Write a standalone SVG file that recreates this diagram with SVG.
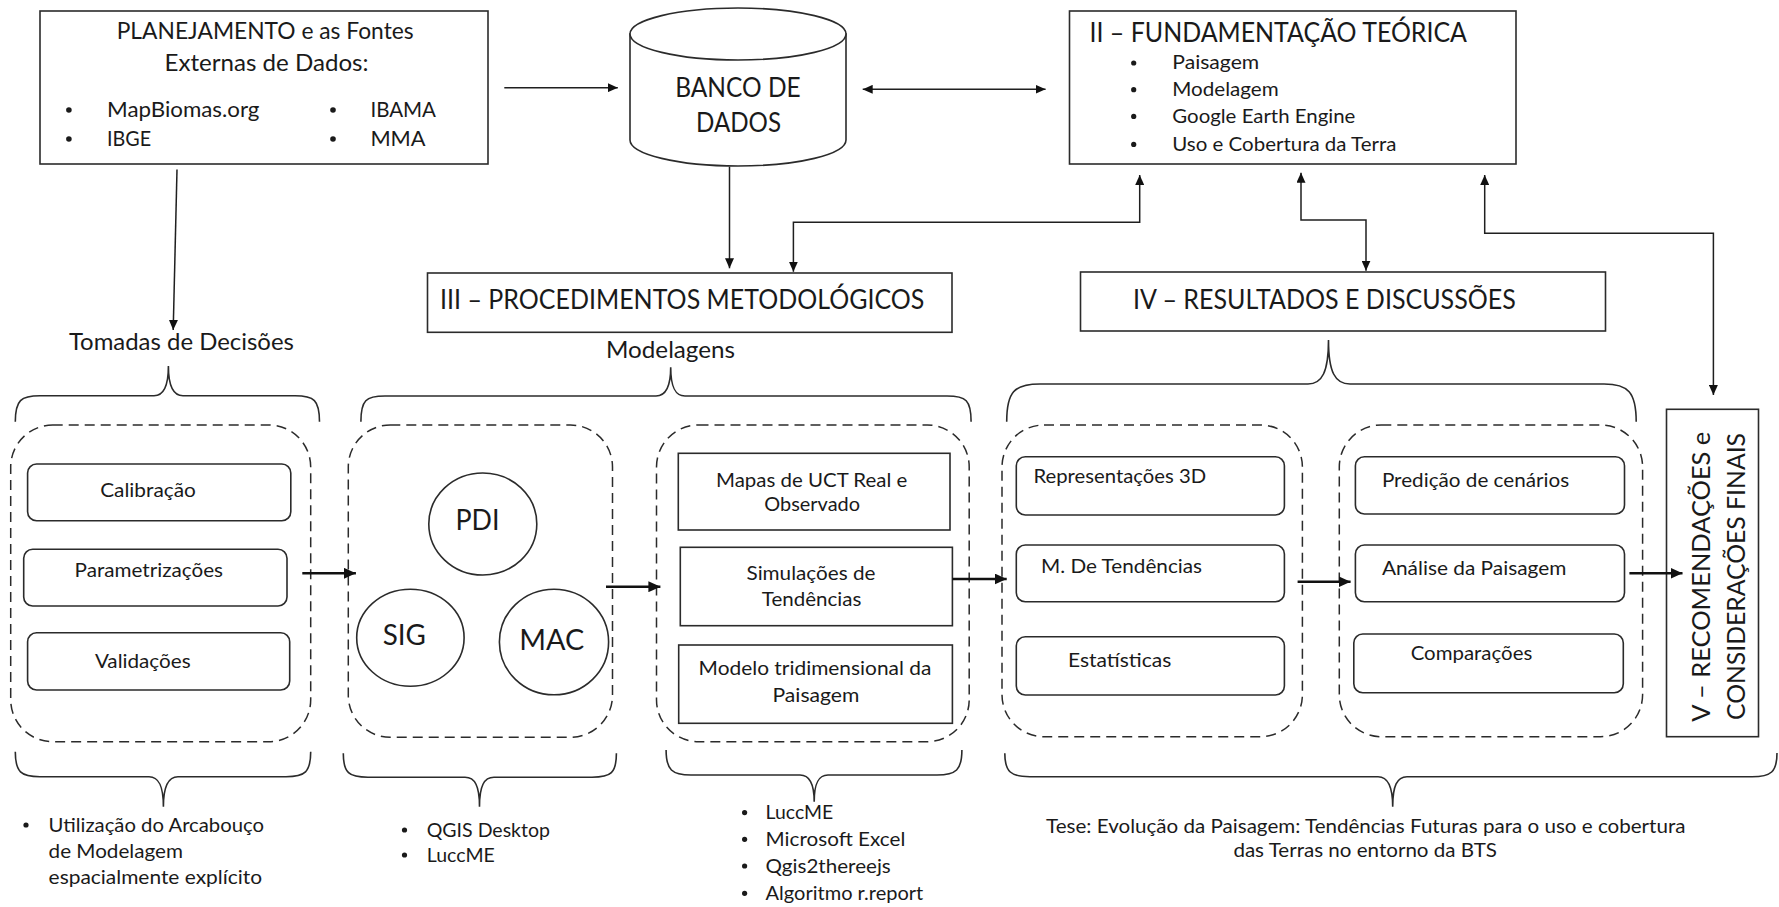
<svg xmlns="http://www.w3.org/2000/svg" width="1779" height="907" viewBox="0 0 1779 907">
  <defs>
    <style>
      .box { fill: #ffffff; stroke: #2b2b2b; stroke-width: 1.6; }
      .rbox { fill: #ffffff; stroke: #2b2b2b; stroke-width: 1.6; }
      .dash { fill: none; stroke: #2b2b2b; stroke-width: 1.5; stroke-dasharray: 10 6; }
      .brace { fill: none; stroke: #2b2b2b; stroke-width: 1.6; }
      .ln { fill: none; stroke: #1f1f1f; stroke-width: 1.5; }
      .thick { fill: none; stroke: #111111; stroke-width: 2.6; }
      .dot { fill: #1a1a1a; }
      text { font-family: Lato, "Open Sans", "Liberation Sans", sans-serif; fill: #1a1a1a; }
      .t20 { font-size: 20px; }
      .t21 { font-size: 21px; }
      .t23 { font-size: 23px; }
      .t26 { font-size: 26px; }
      .t29 { font-size: 29px; }
      .tv { font-size: 25px; }
    </style>
    <marker id="head" viewBox="0 0 10 10" refX="10" refY="5" markerWidth="10" markerHeight="9" markerUnits="userSpaceOnUse" orient="auto-start-reverse" preserveAspectRatio="none">
      <path d="M0,0 L10,5 L0,10 z" fill="#111111"/>
    </marker>
    <marker id="headBig" viewBox="0 0 10 10" refX="10" refY="5" markerWidth="12" markerHeight="11" markerUnits="userSpaceOnUse" orient="auto" preserveAspectRatio="none">
      <path d="M0,0 L10,5 L0,10 z" fill="#111111"/>
    </marker>
  </defs>

  <rect width="1779" height="907" fill="#ffffff"/>

  <!-- Planning and external data sources -->
  <g id="planejamento">
    <rect class="box" x="40" y="11" width="448" height="153"/>
    <text class="t23" x="116.7" y="39.3" textLength="297" lengthAdjust="spacingAndGlyphs">PLANEJAMENTO e as Fontes</text>
    <text class="t23" x="164.5" y="71" textLength="204" lengthAdjust="spacingAndGlyphs">Externas de Dados:</text>
    <circle class="dot" cx="68.9" cy="110" r="2.8"/>
    <circle class="dot" cx="68.9" cy="139" r="2.8"/>
    <circle class="dot" cx="333" cy="110" r="2.8"/>
    <circle class="dot" cx="333" cy="139" r="2.8"/>
    <text class="t21" x="107.1" y="116.7" textLength="152.3" lengthAdjust="spacingAndGlyphs">MapBiomas.org</text>
    <text class="t21" x="107.1" y="145.7" textLength="44.1" lengthAdjust="spacingAndGlyphs">IBGE</text>
    <text class="t21" x="370.4" y="116.7" textLength="65.6" lengthAdjust="spacingAndGlyphs">IBAMA</text>
    <text class="t21" x="370.4" y="145.7" textLength="55.2" lengthAdjust="spacingAndGlyphs">MMA</text>
  </g>

  <!-- Database cylinder -->
  <g id="banco-de-dados">
    <path class="box" d="M630,34 L630,140 A108,26 0 0 0 846,140 L846,34 Z"/>
    <ellipse class="box" cx="738" cy="34" rx="108" ry="26"/>
    <text class="t26" x="675.2" y="96.7" textLength="125.5" lengthAdjust="spacingAndGlyphs">BANCO DE</text>
    <text class="t26" x="696" y="132.3" textLength="85" lengthAdjust="spacingAndGlyphs">DADOS</text>
  </g>

  <!-- II: theoretical foundation -->
  <g id="fundamentacao-teorica">
    <rect class="box" x="1069.5" y="11" width="446.5" height="153"/>
    <text class="t26" x="1089.5" y="41.7" textLength="377.5" lengthAdjust="spacingAndGlyphs">II – FUNDAMENTAÇÃO TEÓRICA</text>
    <circle class="dot" cx="1133.7" cy="63" r="2.6"/>
    <circle class="dot" cx="1133.7" cy="89.7" r="2.6"/>
    <circle class="dot" cx="1133.7" cy="116.4" r="2.6"/>
    <circle class="dot" cx="1133.7" cy="144.4" r="2.6"/>
    <text class="t20" x="1172.3" y="69.3" textLength="86.9" lengthAdjust="spacingAndGlyphs">Paisagem</text>
    <text class="t20" x="1172.3" y="96" textLength="106.4" lengthAdjust="spacingAndGlyphs">Modelagem</text>
    <text class="t20" x="1172.3" y="122.7" textLength="183.1" lengthAdjust="spacingAndGlyphs">Google Earth Engine</text>
    <text class="t20" x="1172.3" y="150.7" textLength="224.1" lengthAdjust="spacingAndGlyphs">Uso e Cobertura  da Terra</text>
  </g>

  <!-- III: methodological procedures -->
  <g id="procedimentos-metodologicos">
    <rect class="box" x="427.5" y="273" width="524.5" height="59.3"/>
    <text class="t26" x="440" y="309.3" textLength="484.4" lengthAdjust="spacingAndGlyphs">III – PROCEDIMENTOS  METODOLÓGICOS</text>
  </g>

  <!-- IV: results and discussion -->
  <g id="resultados-discussoes">
    <rect class="box" x="1080.5" y="272" width="525" height="59"/>
    <text class="t26" x="1133" y="309.3" textLength="382.8" lengthAdjust="spacingAndGlyphs">IV – RESULTADOS  E DISCUSSÕES</text>
  </g>

  <g id="rotulo-tomadas">
    <text class="t23" x="68.9" y="350" textLength="225" lengthAdjust="spacingAndGlyphs">Tomadas de Decisões</text>
  </g>

  <g id="rotulo-modelagens">
    <text class="t23" x="606" y="358.3" textLength="129" lengthAdjust="spacingAndGlyphs">Modelagens</text>
  </g>

  <!-- Decision group -->
  <g id="grupo-decisoes">
    <rect class="dash" x="10.7" y="425" width="300" height="316.7" rx="42" ry="42"/>
    <rect class="rbox" x="27.6" y="464" width="263.2" height="56.7" rx="9"/>
    <text class="t20" x="100.2" y="496.7" textLength="95.7" lengthAdjust="spacingAndGlyphs">Calibração</text>
    <rect class="rbox" x="23.7" y="549.3" width="263.3" height="56.7" rx="9"/>
    <text class="t20" x="74.6" y="576.7" textLength="148.4" lengthAdjust="spacingAndGlyphs">Parametrizações</text>
    <rect class="rbox" x="27.6" y="632.7" width="262.1" height="57.3" rx="9"/>
    <text class="t20" x="94.9" y="668.3" textLength="95.7" lengthAdjust="spacingAndGlyphs">Validações</text>
  </g>

  <!-- GIS / PDI / MAC group -->
  <g id="grupo-ferramentas">
    <rect class="dash" x="348.3" y="425" width="264.2" height="312.3" rx="42" ry="42"/>
    <ellipse class="box" cx="482.8" cy="524" rx="54" ry="51"/>
    <text class="t29" x="455.4" y="530" textLength="44" lengthAdjust="spacingAndGlyphs">PDI</text>
    <ellipse class="box" cx="410.4" cy="637.7" rx="53.7" ry="48.5"/>
    <text class="t29" x="382.7" y="645" textLength="43.3" lengthAdjust="spacingAndGlyphs">SIG</text>
    <ellipse class="box" cx="554" cy="642" rx="54.6" ry="52.8"/>
    <text class="t29" x="519.3" y="650" textLength="65" lengthAdjust="spacingAndGlyphs">MAC</text>
  </g>

  <!-- Modelling outputs group -->
  <g id="grupo-mapas">
    <rect class="dash" x="656.5" y="425" width="312.7" height="316.7" rx="42" ry="42"/>
    <rect class="box" x="678.3" y="453.3" width="271.7" height="76.7"/>
    <text class="t20" x="716" y="486.7" textLength="191.3" lengthAdjust="spacingAndGlyphs">Mapas de UCT Real e</text>
    <text class="t20" x="764.3" y="511" textLength="95.7" lengthAdjust="spacingAndGlyphs">Observado</text>
    <rect class="box" x="680.3" y="547.3" width="272.1" height="78.4"/>
    <text class="t20" x="746.5" y="580" textLength="128.9" lengthAdjust="spacingAndGlyphs">Simulações de</text>
    <text class="t20" x="761.8" y="606" textLength="99.5" lengthAdjust="spacingAndGlyphs">Tendências</text>
    <rect class="box" x="678.7" y="645" width="273.7" height="78.3"/>
    <text class="t20" x="698.6" y="675" textLength="232.7" lengthAdjust="spacingAndGlyphs">Modelo tridimensional da</text>
    <text class="t20" x="772.5" y="701.7" textLength="86.9" lengthAdjust="spacingAndGlyphs">Paisagem</text>
  </g>

  <!-- Representation group -->
  <g id="grupo-representacoes">
    <rect class="dash" x="1002" y="425" width="300.4" height="311.7" rx="42" ry="42"/>
    <rect class="rbox" x="1016.3" y="456.7" width="268.1" height="58.3" rx="9"/>
    <text class="t20" x="1033.5" y="483.3" textLength="172.7" lengthAdjust="spacingAndGlyphs">Representações 3D</text>
    <rect class="rbox" x="1016.3" y="545" width="268.1" height="56.7" rx="9"/>
    <text class="t20" x="1041" y="573.3" textLength="161" lengthAdjust="spacingAndGlyphs">M. De Tendências</text>
    <rect class="rbox" x="1016.3" y="636.7" width="268.1" height="58.3" rx="9"/>
    <text class="t20" x="1068" y="667.3" textLength="103.3" lengthAdjust="spacingAndGlyphs">Estatísticas</text>
  </g>

  <!-- Scenario group -->
  <g id="grupo-predicao">
    <rect class="dash" x="1339.3" y="425" width="303.3" height="311.7" rx="42" ry="42"/>
    <rect class="rbox" x="1355.4" y="456.7" width="269.1" height="57.3" rx="9"/>
    <text class="t20" x="1381.9" y="486.7" textLength="187.3" lengthAdjust="spacingAndGlyphs">Predição de cenários</text>
    <rect class="rbox" x="1355.4" y="545" width="269.1" height="56.7" rx="9"/>
    <text class="t20" x="1381.9" y="575" textLength="184.5" lengthAdjust="spacingAndGlyphs">Análise da Paisagem</text>
    <rect class="rbox" x="1353.8" y="634" width="269.5" height="58.7" rx="9"/>
    <text class="t20" x="1410.7" y="660" textLength="121.6" lengthAdjust="spacingAndGlyphs">Comparações</text>
  </g>

  <!-- V: final considerations (vertical) -->
  <g id="consideracoes-finais">
    <rect class="box" x="1666.5" y="409.3" width="92" height="327.4"/>
    <text class="tv" transform="translate(1710,721.7) rotate(-90)" x="0" y="0" textLength="290" lengthAdjust="spacingAndGlyphs">V – RECOMENDAÇÕES e</text>
    <text class="tv" transform="translate(1745,720) rotate(-90)" x="0" y="0" textLength="287" lengthAdjust="spacingAndGlyphs">CONSIDERAÇÕES FINAIS</text>
  </g>

  <!-- Curly braces -->
  <g id="chaves">
    <path class="brace" d="M15.3,421.7 C15.3,400 21,395.7 40,395.7 L154,395.7 C164,395.7 168.4,386 168.4,366 C168.4,386 173,395.7 183,395.7 L295,395.7 C314,395.7 319.5,400 319.5,421.7"/>
    <path class="brace" d="M360.9,421.7 C360.9,400 366,396 385,396 L656,396 C666,396 670.7,387 670.7,367.3 C670.7,387 675,396 685,396 L947,396 C966,396 971.1,400 971.1,421.7"/>
    <path class="brace" d="M1006.7,421.7 C1006.7,392 1014,384 1040,384 L1308,384 C1322,384 1328.5,372 1328.5,340 C1328.5,372 1335,384 1350,384 L1604,384 C1628,384 1636.2,392 1636.2,421.7"/>
    <path class="brace" d="M15.3,751.7 C15.3,772 21,776.7 40,776.7 L149,776.7 C159,776.7 163.4,786 163.4,806.7 C163.4,786 168,776.7 178,776.7 L286,776.7 C305,776.7 310.7,772 310.7,751.7"/>
    <path class="brace" d="M343.3,753.3 C343.3,773 349,777.3 368,777.3 L465,777.3 C475,777.3 479.5,786 479.5,806.7 C479.5,786 484,777.3 494,777.3 L592,777.3 C611,777.3 616.4,773 616.4,753.3"/>
    <path class="brace" d="M666.1,750 C666.1,770 672,775 691,775 L800,775 C810,775 814.2,784 814.2,801.7 C814.2,784 818,775 828,775 L937,775 C956,775 961.9,770 961.9,750"/>
    <path class="brace" d="M1004.8,753.3 C1004.8,772 1011,776.7 1030,776.7 L1378,776.7 C1388,776.7 1392.7,786 1392.7,806.7 C1392.7,786 1397,776.7 1407,776.7 L1752,776.7 C1771,776.7 1777,772 1777,753"/>
  </g>

  <!-- Notes under the braces -->
  <g id="notas">
    <circle class="dot" cx="26" cy="825" r="2.6"/>
    <text class="t20" x="48.6" y="831.7" textLength="215.4" lengthAdjust="spacingAndGlyphs">Utilização do Arcabouço</text>
    <text class="t20" x="48.6" y="858.3" textLength="134.3" lengthAdjust="spacingAndGlyphs">de Modelagem</text>
    <text class="t20" x="48.6" y="884" textLength="213.5" lengthAdjust="spacingAndGlyphs">espacialmente explícito</text>

    <circle class="dot" cx="404.5" cy="830" r="2.6"/>
    <circle class="dot" cx="404.5" cy="855" r="2.6"/>
    <text class="t20" x="426.7" y="836.7" textLength="123.3" lengthAdjust="spacingAndGlyphs">QGIS Desktop</text>
    <text class="t20" x="426.7" y="861.7" textLength="68.1" lengthAdjust="spacingAndGlyphs">LuccME</text>

    <circle class="dot" cx="744.6" cy="812.6" r="2.6"/>
    <circle class="dot" cx="744.6" cy="839.3" r="2.6"/>
    <circle class="dot" cx="744.6" cy="866" r="2.6"/>
    <circle class="dot" cx="744.6" cy="893.3" r="2.6"/>
    <text class="t20" x="765.6" y="819.3" textLength="67.7" lengthAdjust="spacingAndGlyphs">LuccME</text>
    <text class="t20" x="765.6" y="846" textLength="139.7" lengthAdjust="spacingAndGlyphs">Microsoft Excel</text>
    <text class="t20" x="765.6" y="872.7" textLength="125.2" lengthAdjust="spacingAndGlyphs">Qgis2thereejs</text>
    <text class="t20" x="765.6" y="900" textLength="157.7" lengthAdjust="spacingAndGlyphs">Algoritmo r.report</text>

    <text class="t20" x="1046.1" y="832.5" textLength="639.4" lengthAdjust="spacingAndGlyphs">Tese: Evolução da Paisagem: Tendências Futuras para o uso e cobertura</text>
    <text class="t20" x="1233.4" y="857.3" textLength="263.6" lengthAdjust="spacingAndGlyphs">das Terras no entorno  da BTS</text>
  </g>

  <!-- Connectors -->
  <g id="conectores">
    <path class="ln" d="M177,169.5 L173.2,330" marker-end="url(#head)"/>
    <path class="ln" d="M504.3,87.7 L617.8,87.7" marker-end="url(#head)"/>
    <path class="ln" d="M862.7,89.3 L1045.6,89.3" marker-start="url(#head)" marker-end="url(#head)"/>
    <path class="ln" d="M729.5,166.7 L729.5,268.3" marker-end="url(#head)"/>
    <path class="ln" d="M793.4,271.7 L793.4,222.3 L1139.7,222.3 L1139.7,175" marker-start="url(#head)" marker-end="url(#head)"/>
    <path class="ln" d="M1301,172.7 L1301,220 L1366,220 L1366,270.7" marker-start="url(#head)" marker-end="url(#head)"/>
    <path class="ln" d="M1484.7,175 L1484.7,233.3 L1713.4,233.3 L1713.4,395" marker-start="url(#head)" marker-end="url(#head)"/>
    <path class="thick" d="M302.3,573.3 L355.9,573.3" marker-end="url(#headBig)"/>
    <path class="thick" d="M606,586.7 L660.4,586.7" marker-end="url(#headBig)"/>
    <path class="thick" d="M952.4,579 L1006.7,579" marker-end="url(#headBig)"/>
    <path class="thick" d="M1297.6,581.7 L1350.6,581.7" marker-end="url(#headBig)"/>
    <path class="thick" d="M1629.4,573.3 L1682.5,573.3" marker-end="url(#headBig)"/>
  </g>
</svg>
